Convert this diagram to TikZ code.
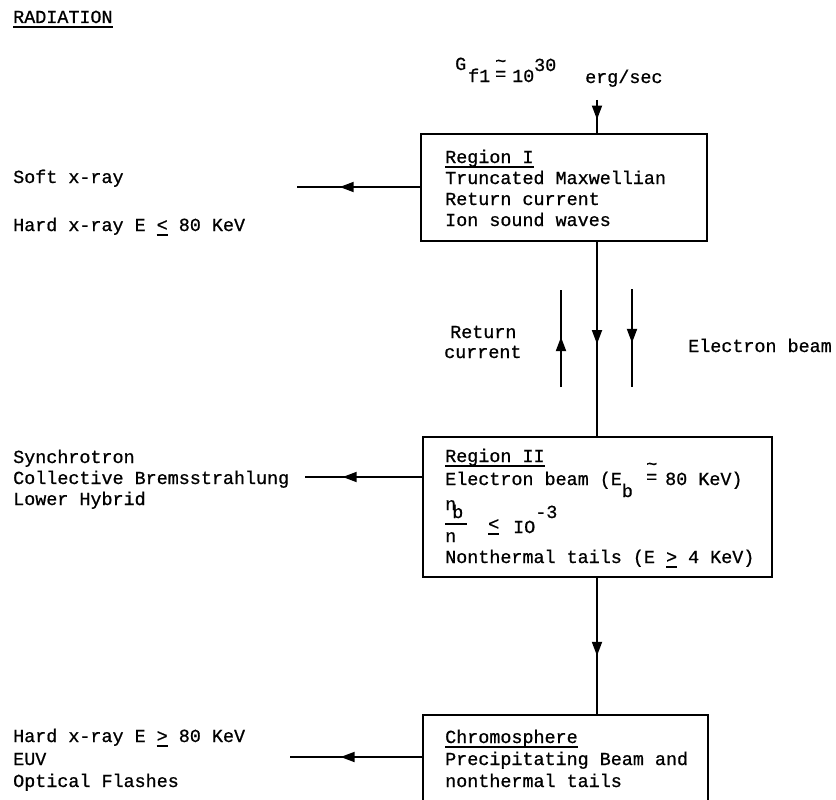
\documentclass[tikz,border=0pt]{standalone}
\usepackage{fontspec}
\newfontfamily\tw[FakeBold=0.8]{Liberation Mono}
\usetikzlibrary{arrows.meta,decorations.markings}
\newlength{\myullen}
\newcommand{\myul}[1]{\settowidth{\myullen}{#1}\rlap{\rule[-4.6pt]{\myullen}{1.3pt}}#1}
\newcommand{\mycong}{\rlap{\raisebox{13pt}{\char`\~}}=}
\tikzset{
  lbl/.style={anchor=base west, inner sep=0pt, font=\tw\fontsize{18.4}{21}\selectfont},
  boxnode/.style={draw, line width=1.8pt, inner sep=0pt},
  ln/.style={line width=1.8pt},
  midarr/.style={ln, postaction={decorate}, decoration={markings, mark=at position #1 with {\arrow{Triangle[length=14pt,width=10pt]}}}}
}
\begin{document}
\begin{tikzpicture}[x=1pt,y=-1pt]
\clip (0,0) rectangle (836,800);
\fill[white] (0,0) rectangle (836,800);

% title
\node[lbl] (title) at (13,23) {\myul{RADIATION}};

% input
\node[lbl] (gG) at (455,70) {G};
\node[lbl] (gf) at (468,82) {f1};
\node[lbl] (gcong) at (495,80) {\mycong};
\node[lbl] (gten) at (512,82) {10};
\node[lbl] (gexp) at (534,71) {30};
\node[lbl] (gerg) at (585,83) {erg/sec};

% boxes
\node[boxnode, minimum width=286pt, minimum height=107pt] (r1) at (564,187.5) {};
\node[boxnode, minimum width=349pt, minimum height=140pt] (r2) at (597.5,507) {};
\node[boxnode, minimum width=285pt, minimum height=115pt] (r3) at (565.5,772.5) {};

% region I text
\node[lbl] (r1a) at (445,163) {\myul{Region I}};
\node[lbl] (r1b) at (445,184) {Truncated Maxwellian};
\node[lbl] (r1c) at (445,205) {Return current};
\node[lbl] (r1d) at (445,226) {Ion sound waves};

% region II text
\node[lbl] (r2a) at (445,462) {\myul{Region II}};
\node[lbl] (r2b) at (445,485) {Electron beam (E\raisebox{-12pt}{b}};
\node[lbl] (r2cong) at (646,483) {\mycong};
\node[lbl] (r2bv) at (665,485) {80 KeV)};
\node[lbl] (fn1) at (445,510) {n\kern-4pt\raisebox{-8pt}{b}};
\node[lbl] (fn2) at (445,542) {n};
\node[lbl] (fle) at (488,530) {\myul{<}};
\node[lbl] (fio) at (513,533) {IO\raisebox{15pt}{-3}};
\node[lbl] (r2d) at (445,563) {Nonthermal tails (E \myul{>} 4 KeV)};
\draw[line width=1.2pt] (fn2.west |- 0,524) -- (467,524);

% chromosphere text
\node[lbl] (r3a) at (445,743) {\myul{Chromosphere}};
\node[lbl] (r3b) at (445,765) {Precipitating Beam and};
\node[lbl] (r3c) at (445,787) {nonthermal tails};

% left labels
\node[lbl] (l1a) at (13,183) {Soft x-ray};
\node[lbl] (l1b) at (13,231) {Hard x-ray E \myul{<} 80 KeV};
\node[lbl] (l2a) at (13,463) {Synchrotron};
\node[lbl] (l2b) at (13,484) {Collective Bremsstrahlung};
\node[lbl] (l2c) at (13,505) {Lower Hybrid};
\node[lbl] (l3a) at (13,742) {Hard x-ray E \myul{>} 80 KeV};
\node[lbl] (l3b) at (13,765) {EUV};
\node[lbl] (l3c) at (13,787) {Optical Flashes};

% middle labels
\node[lbl] (rc1) at (450,338) {Return};
\node[lbl] (rc2) at (444,358) {current};
\node[lbl] (eb) at (688,352) {Electron beam};

% main vertical flow
\coordinate (gin) at (597,100);
\draw[midarr=0.59] (gin) -- (gin |- r1.north);
\draw[midarr=0.526] (r1.south -| gin) -- (r2.north -| gin);
\draw[midarr=0.572] (r2.south -| gin) -- (r3.north -| gin);

% outputs to the left
\coordinate (o1) at (297,187);
\coordinate (o2) at (305,477);
\coordinate (o3) at (290,757);
\draw[midarr=0.653] (r1.west |- o1) -- (o1);
\draw[midarr=0.678] (r2.west |- o2) -- (o2);
\draw[midarr=0.617] (r3.west |- o3) -- (o3);

% parallel arrows
\coordinate (ua) at (561,387);
\coordinate (ub) at (561,290);
\coordinate (da) at (632,289);
\coordinate (db) at (632,387);
\draw[midarr=0.515] (ua) -- (ub);
\draw[midarr=0.55] (da) -- (db);
\end{tikzpicture}
\end{document}
